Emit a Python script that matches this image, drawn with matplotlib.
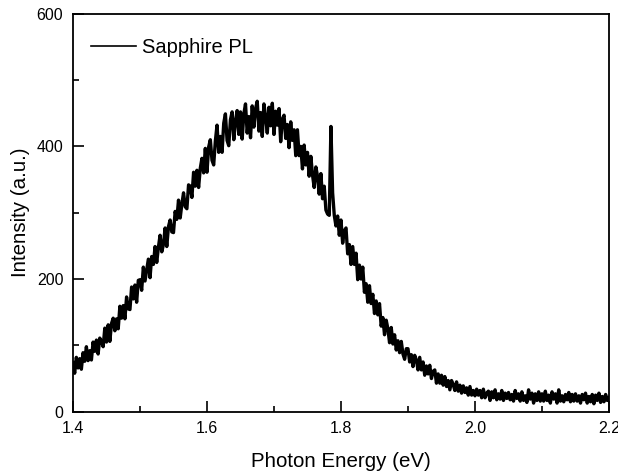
import numpy as np
import matplotlib
matplotlib.use("Agg")
import matplotlib.pyplot as plt

plt.rcParams['font.family'] = ['Liberation Sans', 'DejaVu Sans']

# PL intensity, one value every 0.0025 eV from 1.40 to 2.20 eV
intensity = [
    74, 58, 82, 66, 80, 64, 89, 76, 98, 77, 92, 78, 105, 91, 108, 87, 111, 106, 98, 126,
    105, 131, 106, 133, 141, 122, 140, 125, 159, 141, 160, 140, 173, 155, 154, 188, 170, 191, 165, 198,
    199, 183, 218, 197, 214, 230, 202, 234, 222, 249, 225, 248, 266, 241, 252, 277, 249, 279, 289, 271,
    270, 302, 290, 319, 292, 313, 330, 309, 306, 342, 340, 323, 361, 340, 364, 338, 367, 382, 360, 397,
    361, 399, 410, 379, 372, 408, 432, 391, 415, 391, 435, 449, 409, 401, 440, 452, 410, 438, 454, 418,
    452, 411, 449, 464, 420, 445, 413, 461, 429, 457, 468, 423, 451, 415, 464, 445, 420, 459, 431, 465,
    418, 453, 432, 457, 407, 441, 447, 412, 433, 398, 437, 409, 425, 386, 425, 386, 400, 366, 402, 372,
    391, 355, 385, 357, 338, 369, 355, 328, 359, 321, 340, 304, 298, 296, 430, 330, 296, 280, 295, 266,
    289, 254, 273, 277, 238, 252, 222, 249, 222, 239, 199, 221, 200, 218, 180, 193, 165, 190, 163, 177,
    148, 167, 146, 163, 129, 142, 116, 138, 125, 104, 127, 102, 116, 93, 107, 89, 106, 87, 79, 95,
    95, 75, 86, 68, 85, 78, 63, 82, 63, 75, 55, 69, 57, 70, 50, 61, 63, 43, 57, 43,
    55, 40, 53, 38, 47, 33, 47, 41, 32, 45, 31, 40, 28, 39, 29, 36, 25, 38, 25, 32,
    24, 34, 25, 32, 21, 34, 21, 28, 31, 17, 30, 21, 33, 18, 27, 19, 32, 17, 28, 20,
    29, 18, 26, 16, 32, 20, 27, 16, 30, 17, 24, 14, 33, 19, 28, 13, 27, 17, 30, 16,
    27, 16, 31, 17, 25, 13, 30, 19, 27, 13, 33, 16, 24, 15, 26, 18, 29, 15, 26, 16,
    27, 16, 24, 13, 26, 18, 28, 13, 23, 15, 26, 12, 25, 17, 28, 14, 23, 15, 26, 17,
    21,
]
energy = np.linspace(1.40, 2.20, len(intensity))

x_ticks = [1.4, 1.6, 1.8, 2.0, 2.2]
x_labels = ['1.4', '1.6', '1.8', '2.0', '2.2']
y_ticks = [0, 200, 400, 600]
y_labels = ['0', '200', '400', '600']

fig = plt.figure(figsize=(6.18, 4.74), dpi=100)
ax = fig.add_axes([0.1181, 0.1314, 0.8673, 0.8397])

ax.plot(energy, intensity, color='black', lw=2.4, label='Sapphire PL')

ax.set_xlim(1.4, 2.2)
ax.set_ylim(0, 600)
ax.set_xticks(x_ticks)
ax.set_xticklabels(x_labels)
ax.set_yticks(y_ticks)
ax.set_yticklabels(y_labels)
ax.set_xticks([1.5, 1.7, 1.9, 2.1], minor=True)
ax.set_yticks([100, 300, 500], minor=True)
ax.tick_params(which='both', direction='in', width=1.2, labelsize=11.5, pad=7)
ax.tick_params(which='major', length=8)
ax.tick_params(which='minor', length=4)

for s in ax.spines.values():
    s.set_linewidth(1.3)

ax.set_xlabel('Photon Energy (eV)', fontsize=14.8, labelpad=11)
ax.set_ylabel('Intensity (a.u.)', fontsize=14.8, labelpad=5)

leg = ax.legend(loc='center left', bbox_to_anchor=(0.0336, 0.9146),
                frameon=False, fontsize=14.5, borderpad=0, borderaxespad=0,
                handlelength=2.25, handletextpad=0.3)
leg.get_lines()[0].set_linewidth(1.2)

fig.savefig('out.png', dpi=100)
